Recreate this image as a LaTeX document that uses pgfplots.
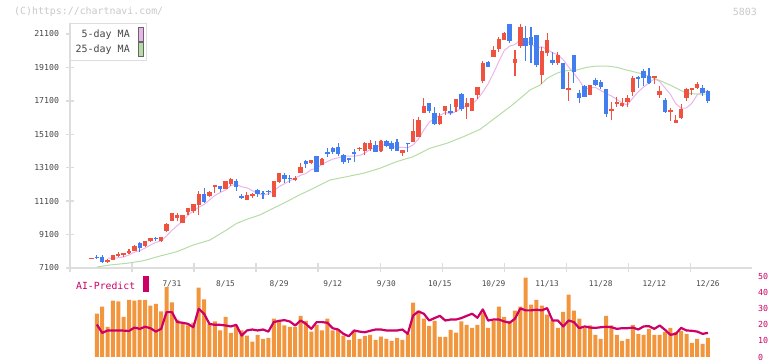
\documentclass[border=0pt]{standalone}
\usepackage{fontspec}
\setmainfont{DejaVu Sans Mono}
\usepackage{pgfplots}
\usepackage{pgfplotstable}
\pgfplotsset{compat=1.18}

\definecolor{cred}{RGB}{240,82,64}
\definecolor{cblue}{RGB}{66,126,240}
\definecolor{cpink}{RGB}{234,180,236}
\definecolor{cgreen}{RGB}{182,220,166}
\definecolor{corange}{RGB}{242,150,62}
\definecolor{cmag}{RGB}{204,0,102}
\definecolor{lgray}{RGB}{221,221,221}
\definecolor{tgray}{RGB}{70,70,70}
\definecolor{cgray}{RGB}{200,200,200}

% up candles (red): k open high low close
\pgfplotstableread{
k o h l c
0 7670 7710 7680 7720
3 7460 7620 7380 7580
4 7580 7870 7570 7860
5 7880 8060 7740 7930
6 7910 8020 7780 7970
7 8030 8220 7940 8090
8 8135 8476 8099 8416
10 8416 8720 8380 8697
11 8715 8913 8656 8877
13 8697 8970 8660 8937
14 9331 9774 9272 9714
15 9930 10410 9930 10372
16 10073 10372 9930 10271
17 9810 10290 9800 10271
18 10468 10700 10271 10690
19 10528 10940 10408 10929
20 10889 11725 10271 11527
22 11408 11707 11368 11647
23 11980 12066 11605 12040
25 11844 12320 11800 12305
26 12126 12484 12006 12406
29 11186 11627 11186 11467
30 11440 11605 11306 11500
34 11368 12320 11330 12305
35 12263 12800 12203 12784
38 12410 12622 12323 12470
39 12766 13364 12766 13125
41 13400 13580 13322 13561
43 13280 13660 13280 13621
50 14230 14357 14118 14290
51 14118 14610 13861 14596
52 14220 14758 14118 14596
54 14118 14758 14058 14716
58 14000 14170 13801 14160
60 14656 15996 14640 15296
61 14956 16152 14920 15955
62 16391 17253 16380 16792
65 15715 16356 15637 16194
66 16511 16800 16254 16792
68 16750 17210 16452 17193
70 16750 17253 15996 16972
71 16511 17270 16500 17253
72 17450 17930 17193 17911
73 18306 19503 18186 19383
75 19742 20382 19740 20143
76 20185 20938 20041 20783
77 20741 21238 20741 21142
79 19383 20143 18587 19586
80 20382 21698 20244 21537
84 18647 20340 18108 20083
85 19945 21178 19784 20741
87 19347 20041 19245 19844
89 17750 18844 17109 17851
93 17450 18060 17440 18049
97 16511 17050 15955 16631
98 16912 17349 16714 17014
99 16810 17289 16750 16990
100 17050 17450 16750 17289
101 17648 18587 17391 18485
105 18500 18587 18091 18560
106 17450 17989 17253 17690
108 16475 16690 15913 16553
109 15793 16254 15757 15955
110 16092 16912 15996 16613
111 17289 17887 17109 17809
112 17791 17860 17450 17851
113 17851 18228 17791 18108
}\uptab

% down candles (blue): k open high low close
\pgfplotstableread{
k o h l c
1 7780 7860 7620 7730
2 7760 7860 7420 7480
9 8578 8656 8057 8296
12 8900 8973 8733 8850
21 11527 11868 11009 11049
24 12006 12020 11647 11807
27 12323 12406 11725 11964
28 11380 11527 11209 11320
31 11767 11827 11348 11509
32 11600 11707 11228 11540
33 11720 11767 11449 11660
36 12664 12766 12203 12406
37 12500 12664 12203 12440
40 13520 13561 13065 13322
42 13801 13820 12840 12861
44 14030 14261 13723 13970
45 14261 14357 13920 14058
46 14357 14596 13801 13920
47 13861 13920 13304 13424
48 13700 13710 13364 13561
49 14030 14201 13460 13970
53 14441 14698 14040 14058
55 14716 14758 14357 14417
56 14596 14698 14082 14220
57 14656 14818 14100 14118
59 14590 14596 14058 14530
63 16954 16990 16356 16511
64 16356 16714 15637 15715
67 16480 16912 16254 16420
69 17510 17552 16511 16631
74 19443 19503 19100 19108
78 21698 21710 20579 20699
81 20843 21579 19503 20382
82 20903 21537 19347 20442
83 21040 21060 19108 19245
86 19544 20041 19245 19383
88 19347 19383 17800 17809
90 19844 19850 18186 18844
91 17552 17750 16990 17253
92 17989 18049 17349 17349
94 18348 18450 17989 18049
95 18228 18348 17809 17911
96 17809 17820 16152 16314
102 18509 18587 17851 18426
103 18904 18988 17989 18450
104 18587 19048 18108 18186
107 17151 17253 16355 16451
114 17869 18049 17391 17588
115 17690 17750 16990 17109
}\downtab

% 5-day moving average
\pgfplotstableread{
k v
3 7690
4 7674
5 7716
6 7760
7 7880
8 8047
9 8134
10 8290
11 8473
12 8629
13 8733
14 9017
15 9352
16 9631
17 9913
18 10264
19 10507
20 10738
21 10893
22 11168
23 11436
24 11612
25 11768
26 12039
27 12102
28 11962
29 11894
30 11731
31 11552
32 11469
33 11537
34 11705
35 11964
36 12143
37 12323
38 12483
39 12647
40 12755
41 12986
42 13068
43 13298
44 13469
45 13616
46 13688
47 13801
48 13789
49 13789
50 13833
51 13968
52 14203
53 14302
54 14449
55 14477
56 14401
57 14306
58 14326
59 14291
60 14467
61 14814
62 15349
63 15819
64 16054
65 16233
66 16401
67 16328
68 16465
69 16648
70 16804
71 16896
72 17192
73 17630
74 18125
75 18760
76 19466
77 20112
78 20375
79 20471
80 20749
81 20669
82 20529
83 20238
84 20338
85 20179
86 19979
87 19859
88 19564
89 19126
90 18746
91 18320
92 17821
93 17869
94 17909
95 17722
96 17534
97 17391
98 17184
99 16972
100 16848
101 17282
102 17641
103 17928
104 18167
105 18421
106 18262
107 17867
108 17488
109 16930
110 16652
111 16676
112 16956
113 17467
114 17594
115 17693
}\mafive

% 25-day moving average
\pgfplotstableread{
k v
1 7160
3.4 7279
6.6 7381
9.7 7537
12.8 7818
15.9 8075
19 8476
22.1 8775
25.2 9373
27.1 9774
29 10013
31.4 10271
33.9 10672
36.4 11067
38.6 11440
41.4 11868
44.5 12365
47.6 12562
50.7 12766
53.8 13065
56.9 13460
60 13759
63.1 14261
66.3 14561
69.4 14956
72.5 15398
75.6 16152
78.1 16750
80 17253
81.8 17749
83.7 18049
85 18450
86.8 18749
88 18886
90.5 18946
92.4 19108
94.3 19185
96.1 19185
98 19108
99.3 18988
101.1 18844
102.3 18749
104.2 18545
106.1 18306
107.9 18049
109.8 17749
111 17552
112.9 17510
115 17500
}\matwentyfive

% AI-Predict bars and line: k bar line
\pgfplotstableread{
k b p
1 26.9 20.2
2 31.3 15.0
3 18.8 16.5
4 35.0 16.5
5 34.6 16.5
6 25.0 16.4
7 35.6 16.2
8 35.0 18.3
9 35.6 17.5
10 35.6 18.8
11 31.9 17.9
12 33.1 15.8
13 28.3 17.5
14 43.5 27.9
15 34.0 27.9
16 23.3 21.7
17 21.3 21.3
18 19.6 20.6
19 21.3 18.5
20 43.1 30.0
21 35.8 26.9
22 20.6 20.6
23 22.1 20.0
24 16.5 20.0
25 25.0 19.6
26 15.0 19.0
27 19.0 20.0
28 16.5 13.3
29 13.3 16.5
30 9.6 17.1
31 13.8 16.5
32 11.3 17.1
33 11.9 15.8
34 23.8 21.7
35 22.7 22.5
36 19.6 22.9
37 18.8 22.1
38 18.8 19.6
39 25.6 22.7
40 22.5 20.6
41 15.8 17.5
42 20.0 21.7
43 16.5 21.7
44 23.8 21.3
45 16.5 17.9
46 16.9 17.1
47 13.3 14.4
48 10.6 12.9
49 15.8 16.5
50 11.3 15.8
51 13.1 15.4
52 13.8 16.3
53 10.6 17.1
54 12.7 17.1
55 11.3 16.5
56 10.0 16.5
57 11.9 16.5
58 10.6 17.1
59 14.4 14.4
60 33.8 25.8
61 28.8 28.3
62 23.8 26.9
63 19.4 22.7
64 22.5 24.2
65 12.5 25.6
66 12.5 22.7
67 16.9 23.3
68 15.2 23.3
69 22.1 24.2
70 20.0 25.6
71 18.1 26.9
72 20.0 24.4
73 27.5 29.6
74 18.1 22.7
75 22.5 23.3
76 31.3 23.3
77 25.0 22.1
78 22.5 21.3
79 28.8 23.8
80 31.4 30.2
81 49.4 29.0
82 32.5 29.0
83 35.6 29.4
84 31.9 29.0
85 26.3 30.4
86 22.7 22.7
87 18.1 22.7
88 28.1 19.0
89 38.8 22.7
90 28.8 21.7
91 23.8 17.9
92 17.9 19.0
93 19.6 18.3
94 13.8 18.1
95 11.3 18.5
96 25.6 18.8
97 19.6 18.5
98 13.8 17.5
99 10.0 17.9
100 11.3 17.9
101 20.0 18.3
102 14.4 17.1
103 13.8 19.0
104 17.5 19.2
105 13.8 17.5
106 13.8 19.6
107 15.6 16.9
108 18.1 13.8
109 15.4 14.4
110 16.3 18.1
111 14.4 16.5
112 8.8 16.3
113 11.3 15.8
114 8.1 14.4
115 11.9 15.0
}\aitab

\pgfplotsset{
  wick/.style={forget plot, draw=none, mark=none,
    error bars/.cd, y dir=both, y explicit, error mark=none,
    error bar style={line width=1.1pt, draw=#1}},
  body/.style={forget plot, draw=none, mark=none,
    error bars/.cd, y dir=both, y explicit, error mark=none,
    error bar style={line width=4.4pt, draw=#1}},
}

\begin{document}
\begin{tikzpicture}[x=1pt,y=1pt]
\useasboundingbox (0,0) rectangle (772,361);
\node[anchor=west, text=cgray, inner sep=0, font=\fontsize{9.9}{12}\selectfont] at (14,349) {(C)https://chartnavi.com/};
\node[anchor=east, text=cgray, inner sep=0, font=\fontsize{9.9}{12}\selectfont] at (757,349) {5803};

\begin{axis}[
  at={(70pt,93pt)}, anchor=south west, scale only axis,
  width=682pt, height=245pt,
  xmin=-4.01, xmax=123.22, ymin=7100, ymax=21758,
  scaled y ticks=false, scaled x ticks=false,
  axis lines*=left,
  axis line style={lgray, line width=1.4pt},
  tick align=center, major tick length=9pt,
  ytick={7100,9100,11100,13100,15100,17100,19100,21100},
  yticklabels={7100,9100,11100,13100,15100,17100,19100,21100},
  ytick style={lgray, line width=1.4pt},
  yticklabel style={text=tgray, font=\fontsize{8.2}{10}\selectfont, xshift=-3pt},
  xtick={15,25,35,45,55,65,75,85,95,105,115},
  xticklabels={7/31,8/15,8/29,9/12,9/30,10/15,10/29,11/13,11/28,12/12,12/26},
  xtick style={draw=none},
  xticklabel style={text=tgray, font=\fontsize{7.8}{9}\selectfont, yshift=-5pt},
  legend plot pos=right,
  legend style={at={(0,1)}, anchor=north west, draw=lgray, line width=1.2pt,
    fill=white, font=\fontsize{10}{12}\selectfont, text=tgray,
    inner xsep=3pt, inner ysep=3pt, row sep=1pt, column sep=6pt,
    cells={anchor=east}},
  clip=false,
]
\addplot[cpink, line width=1pt, mark=none,
  legend image code/.code={\draw[fill=cpink, draw=black!60, line width=0.8pt] (0pt,-7pt) rectangle (5pt,7pt);}]
  table[x=k, y=v] {\mafive};
\addlegendentry{5-day MA}
\addplot[cgreen, line width=1pt, mark=none,
  legend image code/.code={\draw[fill=cgreen, draw=black!60, line width=0.8pt] (0pt,-7pt) rectangle (5pt,7pt);}]
  table[x=k, y=v] {\matwentyfive};
\addlegendentry{25-day MA}

\addplot[wick=cred] table[x=k, y expr={(\thisrow{h}+\thisrow{l})/2}, y error expr={(\thisrow{h}-\thisrow{l})/2}] {\uptab};
\addplot[body=cred] table[x=k, y expr={(\thisrow{o}+\thisrow{c})/2}, y error expr={abs(\thisrow{c}-\thisrow{o})/2}] {\uptab};
\addplot[wick=cblue] table[x=k, y expr={(\thisrow{h}+\thisrow{l})/2}, y error expr={(\thisrow{h}-\thisrow{l})/2}] {\downtab};
\addplot[body=cblue] table[x=k, y expr={(\thisrow{o}+\thisrow{c})/2}, y error expr={abs(\thisrow{c}-\thisrow{o})/2}] {\downtab};
\end{axis}

\begin{axis}[
  at={(70pt,4pt)}, anchor=south west, scale only axis,
  width=682pt, height=89pt,
  xmin=-4.01, xmax=123.22, ymin=0, ymax=55.35,
  scaled y ticks=false,
  axis x line*=top, axis y line*=right,
  axis line style={draw=none},
  tick align=center, major tick length=9pt,
  xtick={-4.01,7.56,19.13,30.71,42.28,53.86,65.43,77.0,88.58,100.15,111.73,123.3},
  xticklabels={},
  xtick style={lgray, line width=1.4pt},
  ytick={0,10,20,30,40,50},
  yticklabels={0,10,20,30,40,50},
  ytick style={draw=none},
  yticklabel style={text=cmag, font=\fontsize{8.3}{10}\selectfont, anchor=west, xshift=-2pt},
  clip=false,
]
\addplot[ybar, bar width=4pt, bar shift=0pt, fill=corange, draw=none] table[x=k, y=b] {\aitab};
\addplot[cmag, line width=2.2pt, mark=none, line join=round] table[x=k, y=p] {\aitab};
\end{axis}

\node[anchor=west, text=cmag, inner sep=0, font=\fontsize{9.8}{12}\selectfont] at (76,75) {AI-Predict};
\fill[cmag] (142.5,68.5) rectangle (148.5,84.5);
\end{tikzpicture}
\end{document}
